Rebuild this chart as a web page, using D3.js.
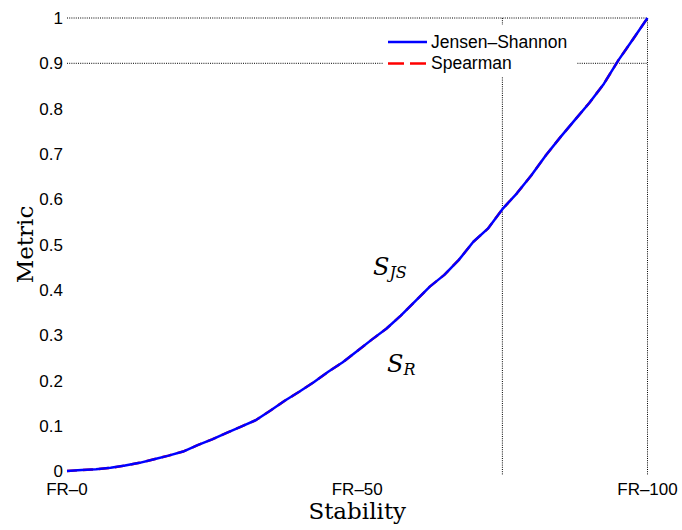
<!DOCTYPE html>
<html>
<head>
<meta charset="utf-8">
<script src="https://cdn.jsdelivr.net/npm/d3@7"></script>
<style>
  body { margin: 0; background: #fff; }
  svg { display: block; }
  .tick-label { font-family: 'Liberation Sans', Arial, sans-serif; font-size: 17px; fill: #000; }
  .axis-title { font-family: 'DejaVu Serif', serif; font-size: 23px; fill: #000; }
  .legend-label { font-family: 'Liberation Sans', Arial, sans-serif; font-size: 17.5px; fill: #000; }
</style>
</head>
<body>
<svg id="chart"></svg>
<script>
// Stability level (FR-0 ... FR-100) and the two metrics
const stability = [0, 2.5, 5, 7.5, 10, 12.5, 15, 17.5, 20, 22.5, 25, 27.5, 30, 32.5, 35, 37.5, 40,
  42.5, 45, 47.5, 50, 52.5, 55, 57.5, 60, 62.5, 65, 67.5, 70, 72.5, 75, 77.5, 80, 82.5, 85, 87.5,
  90, 92.5, 95, 97.5, 100];
const jensenShannon = [0.000, 0.002, 0.004, 0.007, 0.012, 0.018, 0.026, 0.034, 0.043, 0.057, 0.070,
  0.084, 0.098, 0.112, 0.133, 0.155, 0.175, 0.196, 0.219, 0.240, 0.265, 0.290, 0.314, 0.343, 0.375,
  0.407, 0.433, 0.466, 0.506, 0.535, 0.578, 0.613, 0.653, 0.697, 0.737, 0.775, 0.813, 0.855, 0.907,
  0.953, 1.000];
// Spearman lies exactly under the Jensen-Shannon curve in the picture
const spearman = [0.000, 0.002, 0.004, 0.007, 0.012, 0.018, 0.026, 0.034, 0.043, 0.057, 0.070,
  0.084, 0.098, 0.112, 0.133, 0.155, 0.175, 0.196, 0.219, 0.240, 0.265, 0.290, 0.314, 0.343, 0.375,
  0.407, 0.433, 0.466, 0.506, 0.535, 0.578, 0.613, 0.653, 0.697, 0.737, 0.775, 0.813, 0.855, 0.907,
  0.953, 1.000];

const xTicks = [0, 50, 100];
const xTickLabels = ['FR\u20130', 'FR\u201350', 'FR\u2013100'];
const yTicks = [0, 0.1, 0.2, 0.3, 0.4, 0.5, 0.6, 0.7, 0.8, 0.9, 1];
const gridY = [0.9, 1];
const gridX = [75, 100];

const width = 682, height = 530;
const margin = {top: 18, right: 34.5, bottom: 59, left: 67};

const svg = d3.select('#chart')
    .attr('width', width)
    .attr('height', height);

const x = d3.scaleLinear()
    .domain([0, 100])
    .range([margin.left, width - margin.right]);

const y = d3.scaleLinear()
    .domain([0, 1])
    .range([height - margin.bottom, margin.top]);

// Dotted reference lines
svg.selectAll('.grid-h')
    .data(gridY)
  .join('line')
    .attr('class', 'grid-h')
    .attr('x1', x(0))
    .attr('x2', x(100))
    .attr('y1', d => y(d))
    .attr('y2', d => y(d))
    .attr('stroke', '#000')
    .attr('stroke-width', 1)
    .attr('stroke-dasharray', '1,1.2');

svg.selectAll('.grid-v')
    .data(gridX)
  .join('line')
    .attr('class', 'grid-v')
    .attr('x1', d => x(d))
    .attr('x2', d => x(d))
    .attr('y1', y(1))
    .attr('y2', y(0) + 4)
    .attr('stroke', '#000')
    .attr('stroke-width', 1)
    .attr('stroke-dasharray', '1,1.2');

// Tick labels (no axis lines in the original)
svg.selectAll('.y-label')
    .data(yTicks)
  .join('text')
    .attr('class', 'tick-label y-label')
    .attr('x', x(0) - 4)
    .attr('y', d => y(d))
    .attr('dy', '0.36em')
    .attr('text-anchor', 'end')
    .text(d => d3.format('~g')(d));

svg.selectAll('.x-label')
    .data(xTicks)
  .join('text')
    .attr('class', 'tick-label x-label')
    .attr('x', d => x(d))
    .attr('y', y(0) + 24)
    .attr('text-anchor', 'middle')
    .text((d, i) => xTickLabels[i]);

// Axis titles
svg.append('text')
    .attr('class', 'axis-title')
    .attr('x', (x(0) + x(100)) / 2)
    .attr('y', height - 11)
    .attr('text-anchor', 'middle')
    .text('Stability');

svg.append('text')
    .attr('class', 'axis-title')
    .attr('transform', `translate(33,${(y(0) + y(1)) / 2}) rotate(-90)`)
    .attr('text-anchor', 'middle')
    .text('Metric');

// Curves
const line = d3.line()
    .x((d, i) => x(stability[i]))
    .y(d => y(d));

svg.append('path')
    .datum(spearman)
    .attr('fill', 'none')
    .attr('stroke', '#ff0000')
    .attr('stroke-width', 2.5)
    .attr('stroke-dasharray', '10,6')
    .attr('d', line);

svg.append('path')
    .datum(jensenShannon)
    .attr('fill', 'none')
    .attr('stroke', '#0000ff')
    .attr('stroke-width', 2.5)
    .attr('stroke-linejoin', 'round')
    .attr('d', line);

// Region annotations
const sJS = svg.append('text')
    .attr('x', 373)
    .attr('y', 275)
    .attr('font-family', 'DejaVu Serif, serif')
    .attr('font-style', 'italic')
    .attr('font-size', '24px');
sJS.append('tspan').text('S');
sJS.append('tspan').attr('dy', 3).attr('font-size', '16px').text('JS');

const sR = svg.append('text')
    .attr('x', 387)
    .attr('y', 372)
    .attr('font-family', 'DejaVu Serif, serif')
    .attr('font-style', 'italic')
    .attr('font-size', '24px');
sR.append('tspan').text('S');
sR.append('tspan').attr('dy', 3).attr('font-size', '16px').text('R');

// Legend
const legend = svg.append('g');
legend.append('rect')
    .attr('x', 383)
    .attr('y', 25)
    .attr('width', 194)
    .attr('height', 52)
    .attr('fill', '#fff');

const legendItems = [
  {name: 'Jensen\u2013Shannon', color: '#0000ff', dash: null},
  {name: 'Spearman', color: '#ff0000', dash: '16,6'}
];

legend.selectAll('.legend-line')
    .data(legendItems)
  .join('line')
    .attr('x1', 388)
    .attr('x2', 427)
    .attr('y1', (d, i) => 42 + i * 21.5)
    .attr('y2', (d, i) => 42 + i * 21.5)
    .attr('stroke', d => d.color)
    .attr('stroke-width', 2.5)
    .attr('stroke-dasharray', d => d.dash);

legend.selectAll('.legend-label')
    .data(legendItems)
  .join('text')
    .attr('class', 'legend-label')
    .attr('x', 431)
    .attr('y', (d, i) => 48 + i * 21)
    .text(d => d.name);
</script>
</body>
</html>
